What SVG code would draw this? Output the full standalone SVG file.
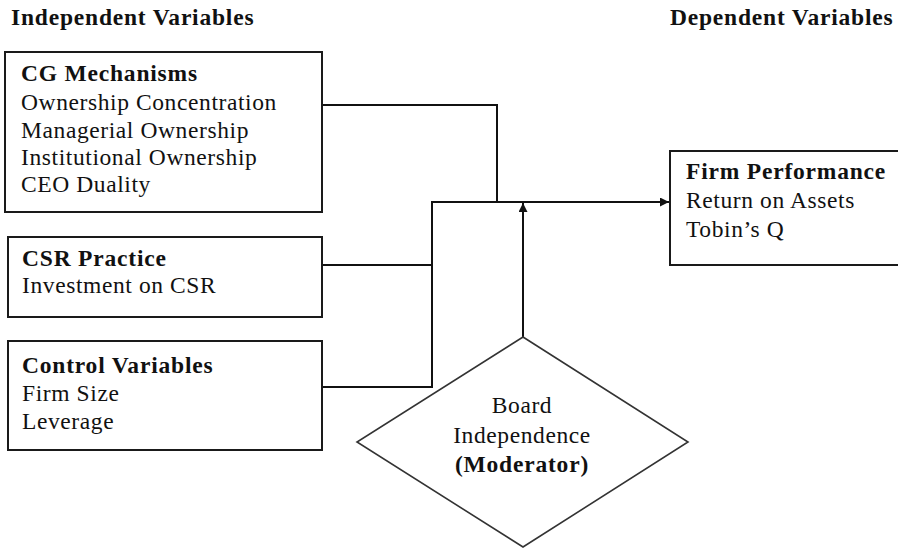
<svg xmlns="http://www.w3.org/2000/svg" width="898" height="548" viewBox="0 0 898 548">
<style>
text{font-family:'Liberation Serif','DejaVu Serif',Tinos,serif;font-size:23.5px;fill:#111;letter-spacing:0.6px}
.b{font-weight:bold;letter-spacing:0.8px}
.box{fill:#fff;stroke:#1a1a1a;stroke-width:2}
.dia{fill:#fff;stroke:#333;stroke-width:1.6}
.con{fill:none;stroke:#111;stroke-width:2}
</style>
<defs>
<marker id="arr" viewBox="0 0 10 10" refX="10" refY="5" markerWidth="10" markerHeight="9" markerUnits="userSpaceOnUse" orient="auto">
<path d="M0,0 L10,5 L0,10 Z" fill="#111"/>
</marker>
</defs>
<rect width="898" height="548" fill="#fff"/>
<text class="b" x="11" y="25">Independent Variables</text>
<text class="b" x="670" y="25">Dependent Variables</text>
<g id="connectors">
<polyline class="con" points="322,105 497,105 497,202"/>
<polyline class="con" points="322,265 432,265"/>
<polyline class="con" points="322,387 432,387 432,202 669,202" marker-end="url(#arr)"/>
<line class="con" x1="523" y1="337" x2="523" y2="203" marker-end="url(#arr)"/>
</g>
<g id="cg">
<rect class="box" x="5" y="52" width="317" height="160"/>
<text class="b" x="21" y="81">CG Mechanisms</text>
<text x="21" y="110">Ownership Concentration</text>
<text x="21" y="138">Managerial Ownership</text>
<text x="21" y="165">Institutional Ownership</text>
<text x="21" y="192">CEO Duality</text>
</g>
<g id="csr">
<rect class="box" x="8" y="237" width="314" height="80"/>
<text class="b" x="22" y="266">CSR Practice</text>
<text x="22" y="293">Investment on CSR</text>
</g>
<g id="control">
<rect class="box" x="8" y="341" width="314" height="109"/>
<text class="b" x="22" y="373">Control Variables</text>
<text x="22" y="401">Firm Size</text>
<text x="22" y="429">Leverage</text>
</g>
<g id="firm">
<rect class="box" x="670" y="151" width="240" height="114"/>
<text class="b" x="686" y="179">Firm Performance</text>
<text x="686" y="208">Return on Assets</text>
<text x="686" y="237">Tobin’s Q</text>
</g>
<g id="moderator">
<polygon class="dia" points="523,337 688,442 523,547 357,442"/>
<text x="522" y="413" text-anchor="middle">Board</text>
<text x="522" y="443" text-anchor="middle">Independence</text>
<text class="b" x="522" y="472" text-anchor="middle">(Moderator)</text>
</g>
</svg>
